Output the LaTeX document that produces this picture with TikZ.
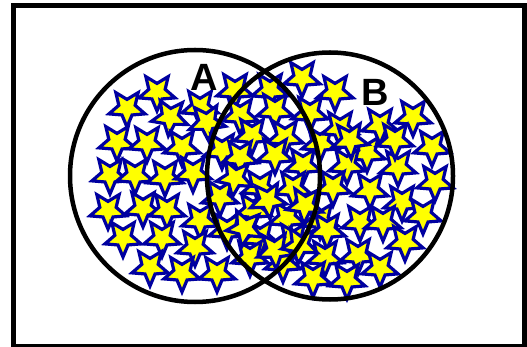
\documentclass[tikz,border=0pt]{standalone}
\usepackage{fontspec}
\setmainfont{Liberation Sans}
\usetikzlibrary{calc}
\definecolor{starline}{RGB}{0,0,160}
\definecolor{starfill}{RGB}{255,255,0}
\tikzset{
  starpath/.style={draw=starline, fill=starfill, line width=3.2pt, line join=miter},
  ring/.style={draw=black, line width=4.5pt},
  frame/.style={draw=black, line width=5pt},
  lbl/.style={font=\fontsize{38}{38}\selectfont\bfseries, inner sep=0pt}
}
\newcommand{\mystar}[3]{%
  \filldraw[starpath] ($(#1,#2)+({90+#3}:19)$)
    \foreach \k in {1,...,9}{ -- ($(#1,#2)+({90+#3+36*\k}:{ifthenelse(mod(\k,2)==1,8.6,19)})$) } -- cycle;}
\begin{document}
\begin{tikzpicture}[x=1pt,y=-1pt]
\useasboundingbox (0,0) rectangle (527,347);
\fill[white] (0,0) rectangle (527,347);
\draw[frame] (13.5,5.5) rectangle (524,346);
\foreach \x/\y/\r in {
157/92/0, 127/108/0, 170/117/5, 200/107/0, 207/122/-5, 117/142/0, 147/143/0, 182/147/0,
110/175/0, 135/175/0, 165/177/0, 193/173/0, 108/210/0, 143/208/0, 167/210/0, 200/220/0,
123/238/0, 162/238/0, 195/247/0, 150/267/0, 182/273/0, 217/273/0,
235/90/0, 240/115/0, 270/90/0, 275/110/0, 302/78/0, 335/92/0, 310/113/0, 252/135/0,
285/137/0, 222/150/0, 240/157/0, 275/155/0, 320/143/0, 340/128/0, 367/153/0, 380/125/0,
413/117/0, 432/147/0, 347/165/0, 303/165/0, 398/167/0, 260/187/0, 293/188/0, 220/197/0,
333/187/0, 370/190/0, 435/182/0, 402/202/0, 253/210/0, 287/218/0, 320/220/0, 360/222/0,
383/222/0, 423/215/0, 227/230/0, 260/237/0, 293/240/0, 327/230/0, 405/242/0, 325/257/0,
358/255/0, 250/257/0, 283/263/0, 313/278/0, 347/280/0, 380/268/0,
235/178/8, 268/200/-6, 305/205/4, 245/228/10, 275/250/-4, 300/245/6,
350/140/-4, 395/140/0}
{\mystar{\x}{\y}{\r}}
\draw[ring] (195,176) ellipse (125 and 126);
\draw[ring] (330,176) ellipse (123 and 123.5);
\node[lbl] (A) at (204,77) {A};
\node[lbl] (B) at (375,92) {B};
\end{tikzpicture}
\end{document}
